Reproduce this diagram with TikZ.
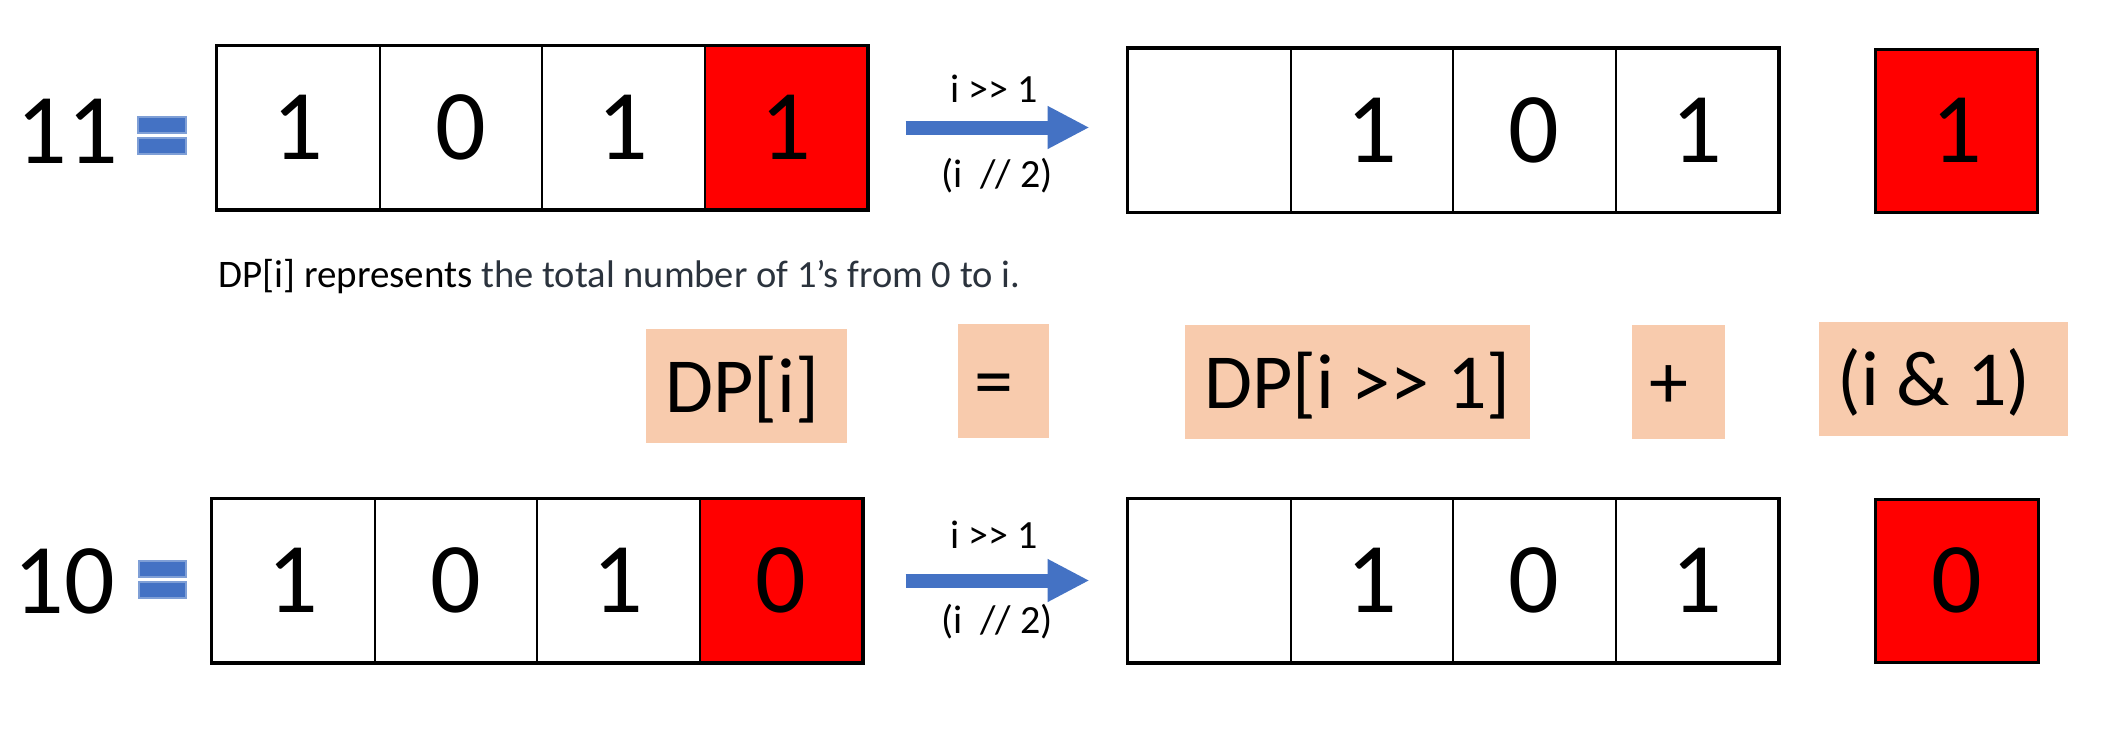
\documentclass[tikz,border=0pt]{standalone}
\usepackage{fontspec}
\setmainfont{Carlito}
\usetikzlibrary{arrows.meta,fit}
\definecolor{cellred}{HTML}{FF0000}
\definecolor{peach}{HTML}{F8CBAD}
\definecolor{arrblue}{HTML}{4472C4}
\definecolor{eqedge}{HTML}{7F9FD6}
\definecolor{slate}{HTML}{2B333D}
\newcommand{\shr}{>\kern0pt>}
\tikzset{
 cell/.style={draw=black, line width=2pt, minimum width=162.5pt, minimum height=163pt, inner sep=0pt, font=\fontsize{100}{110}\selectfont},
 redcell/.style={cell, fill=cellred},
 single/.style={redcell, line width=3pt},
 rowframe/.style={draw=black, line width=3pt, inner sep=0pt},
 bigarrow/.style={draw=arrblue, line width=14pt, -{Triangle[length=42pt,width=40pt]}},
 lbl/.style={font=\fontsize{40}{44}\selectfont, inner sep=0pt, anchor=base},
 numlbl/.style={font=\fontsize{100}{110}\selectfont, inner sep=0pt, anchor=base},
 eqbar/.style={fill=arrblue, draw=eqedge, line width=1.2pt},
 peachbox/.style={fill=peach, inner sep=0pt, minimum height=114pt, text height=53pt, text depth=0pt, font=\fontsize{78}{90}\selectfont},
 desc/.style={font=\fontsize{39}{43}\selectfont, inner sep=0pt, anchor=base west}
}
\begin{document}
\begin{tikzpicture}[x=1pt,y=-1pt]
\useasboundingbox[fill=white] (0,0) rectangle (2117,755);

% ---- top row (11) ----
\node[numlbl] (n11) at (67,163) {11};
\draw[eqbar] (138,117) rectangle (186,133);
\draw[eqbar] (138,138) rectangle (186,154);
\node[cell] (a1) at (298.25,127.5) {1};
\node[cell] (a2) at (460.75,127.5) {0};
\node[cell] (a3) at (623.25,127.5) {1};
\node[redcell] (a4) at (785.75,127.5) {1};
\node[rowframe, fit=(a1)(a4)] (rowA) {};

\node[cell] (b1) at (1209.25,130) {};
\node[cell] (b2) at (1371.75,130) {1};
\node[cell] (b3) at (1534.25,130) {0};
\node[cell] (b4) at (1696.75,130) {1};
\node[rowframe, fit=(b1)(b4)] (rowB) {};
\node[single] (bs) at (1956.5,130.5) {1};

\draw[bigarrow, shorten <=36pt, shorten >=36pt] (rowA.east) -- (rowA.east -| rowB.west);
\node[lbl] (la) at (994,102) {i \shr{} 1};
\node[lbl] (lb) at (997,187) {(i\ \ // 2)};

% ---- description ----
\node[desc] (desc) at (218,287) {DP[i] represents {\color{slate}\fontsize{38.5}{43}\selectfont the total number of 1’s from 0 to i.}};

% ---- formula ----
\node[peachbox, minimum width=201pt] (p1) at (746.5,386) {DP[i]\hspace*{8pt}};
\node[peachbox, minimum width=91pt] (p2) at (1003.5,381) {=\hspace*{20pt}};
\node[peachbox, minimum width=345pt] (p3) at (1357.5,381.5) {DP[i \shr{} 1]};
\node[peachbox, minimum width=93pt] (p4) at (1678.5,381.5) {+\hspace*{19pt}};
\node[peachbox, minimum width=249pt] (p5) at (1943.5,379) {(i \& 1)\hspace*{19pt}};

% ---- bottom row (10) ----
\node[numlbl] (n10) at (64,613) {10};
\draw[eqbar] (139,561) rectangle (186,577);
\draw[eqbar] (139,582) rectangle (186,598);
\node[cell] (c1) at (293.25,580.5) {1};
\node[cell] (c2) at (455.75,580.5) {0};
\node[cell] (c3) at (618.25,580.5) {1};
\node[redcell] (c4) at (780.75,580.5) {0};
\node[rowframe, fit=(c1)(c4)] (rowC) {};

\node[cell] (d1) at (1209.25,580.5) {};
\node[cell] (d2) at (1371.75,580.5) {1};
\node[cell] (d3) at (1534.25,580.5) {0};
\node[cell] (d4) at (1696.75,580.5) {1};
\node[rowframe, fit=(d1)(d4)] (rowD) {};
\node[single] (ds) at (1957,580.5) {0};

\draw[bigarrow, shorten <=41pt, shorten >=36pt] (rowC.east) -- (rowD.west);
\node[lbl] (lc) at (994,548) {i \shr{} 1};
\node[lbl] (ld) at (997,633) {(i\ \ // 2)};
\end{tikzpicture}
\end{document}
